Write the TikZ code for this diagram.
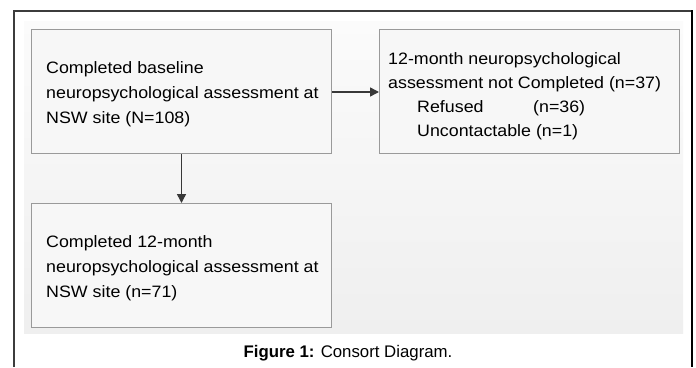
\documentclass[tikz,border=0pt]{standalone}
\usepackage{fontspec}
\setmainfont{Liberation Sans}[FakeStretch=1.08]
\newfontfamily\capfont{Liberation Sans}
\usetikzlibrary{arrows.meta,calc}
\definecolor{panelTop}{HTML}{FBFBFB}
\definecolor{panelBot}{HTML}{EFEFEF}
\definecolor{boxFill}{HTML}{F7F7F7}
\definecolor{boxLine}{HTML}{9A9A9A}
\definecolor{arrowCol}{HTML}{383838}
\definecolor{frameCol}{HTML}{3C3C3C}
\tikzset{
  flowbox/.style={draw=boxLine, line width=1pt, fill=boxFill, rectangle,
    minimum width=300pt, minimum height=124pt, anchor=north west, inner sep=0pt},
  boxtext/.style={anchor=west, align=left, inner sep=0pt, text=black,
    font=\fontsize{16.5}{25}\selectfont},
  flowarrow/.style={draw=arrowCol, line width=1.4pt, -{Triangle[length=9pt,width=9pt]}},
}
\begin{document}
\begin{tikzpicture}[x=1pt,y=-1pt]
\useasboundingbox (0,0) rectangle (696,367);
\fill[white] (0,0) rectangle (696,367);
% outer frame (open at the bottom)
\draw[frameCol, line width=1.3pt] (14,367) -- (14,11) -- (692,11);
\draw[black, line width=2.5pt] (692,10.35) -- (692,367);
% shaded panel
\shade[top color=panelTop, bottom color=panelBot] (24,21) rectangle (683,333);
% boxes
\node[flowbox] (b1) at (31,29) {};
\node[flowbox] (b2) at (379,29) {};
\node[flowbox] (b3) at (31,203) {};
% texts
\node[boxtext] (t1) at ($(b1.west)+(15,2.5)$)
  {Completed baseline\\neuropsychological assessment at\\NSW site (N=108)};
\node[boxtext, font=\fontsize{16.5}{24}\selectfont] (t2) at ($(b2.west)+(9,5)$)
  {12-month neuropsychological\\assessment not Completed (n=37)\\
   \hspace*{29pt}\makebox[116pt][l]{Refused}(n=36)\\
   \hspace*{29pt}Uncontactable (n=1)};
\node[boxtext] (t3) at ($(b3.west)+(15,3)$)
  {Completed 12-month\\neuropsychological assessment at\\NSW site (n=71)};
% connectors
\draw[flowarrow] (b1.south) -- (b3.north);
\draw[flowarrow] (b1.east |- 0,92) -- (b2.west |- 0,92);
% caption
\node[font=\capfont\fontsize{16.8}{20}\selectfont, anchor=center] (cap) at (348,353)
  {\textbf{Figure 1:} Consort Diagram.};
\end{tikzpicture}
\end{document}
